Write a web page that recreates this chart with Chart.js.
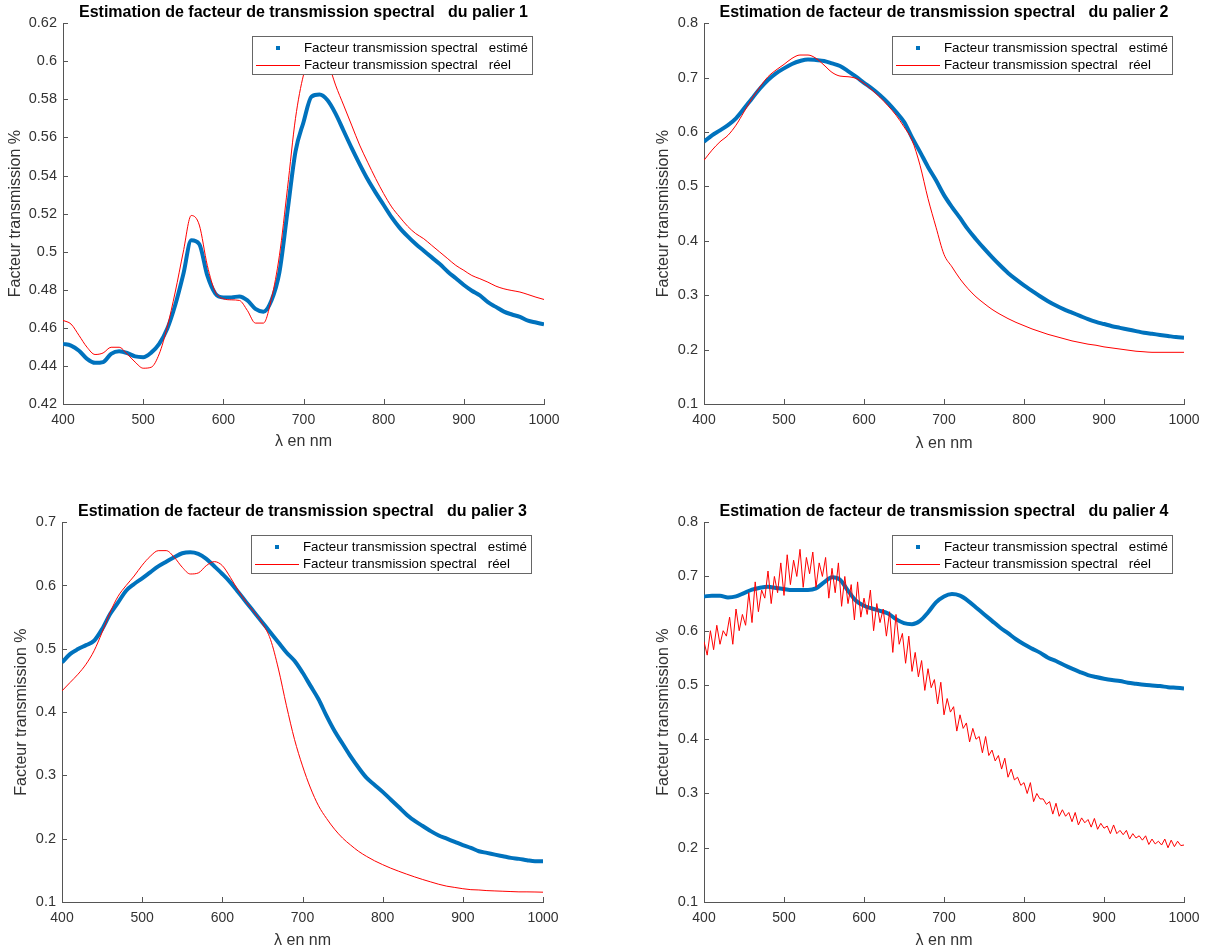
<!DOCTYPE html>
<html>
<head>
<meta charset="utf-8">
<script src="https://cdn.jsdelivr.net/npm/chart.js@4/dist/chart.umd.min.js"></script>
<style>
  body { margin: 0; background: #fff; }
  #wrap { position: relative; width: 1209px; height: 951px; overflow: hidden; background: #fff; }
  canvas { position: absolute; }
</style>
</head>
<body>
<div id="wrap">
  <canvas id="c1" width="604" height="460" style="left:0;top:0"></canvas>
  <canvas id="c2" width="605" height="460" style="left:604px;top:0"></canvas>
  <canvas id="c3" width="604" height="452" style="left:0;top:499px"></canvas>
  <canvas id="c4" width="605" height="452" style="left:604px;top:499px"></canvas>
</div>
<script>
// wavelengths (nm)
const wl = [400,410,420,430,440,450,460,470,480,490,500,510,520,530,540,550,560,570,580,590,
  600,610,620,630,640,650,660,670,680,690,700,710,720,730,740,750,760,770,780,790,
  800,810,820,830,840,850,860,870,880,890,900,910,920,930,940,950,960,970,980,990,1000];

const wl4 = [400,404,408,412,416,420,424,428,432,436,
  440,444,448,452,456,460,464,468,472,476,
  480,484,488,492,496,500,504,508,512,516,
  520,524,528,532,536,540,544,548,552,556,
  560,564,568,572,576,580,584,588,592,596,
  600,604,608,612,616,620,624,628,632,636,
  640,644,648,652,656,660,664,668,672,676,
  680,684,688,692,696,700,704,708,712,716,
  720,724,728,732,736,740,744,748,752,756,
  760,764,768,772,776,780,784,788,792,796,
  800,804,808,812,816,820,824,828,832,836,
  840,844,848,852,856,860,864,868,872,876,
  880,884,888,892,896,900,904,908,912,916,
  920,924,928,932,936,940,944,948,952,956,
  960,964,968,972,976,980,984,988,992,996,
  1000];

// palier 1
const estime1 = [.4516,.4507,.448,.4437,.4416,.442,.4463,.4477,.4468,.445,
  .4446,.447,.4516,.4595,.472,.488,.506,.504,.4875,.478,
  .476,.476,.4765,.4744,.470,.4685,.4744,.4893,.521,.5525,
  .568,.5815,.5825,.5795,.5725,.5635,.5545,.546,.538,.531,
  .5245,.518,.5125,.508,.504,.5005,.497,.4935,.4895,.486,
  .4825,.4795,.477,.4735,.471,.4685,.467,.4658,.4638,.4628,.4618];
const reel1 = [.4639,.462,.456,.4498,.446,.4468,.4498,.4498,.4463,.442,
  .4388,.4393,.4463,.4604,.4788,.4998,.519,.514,.4928,.4788,
  .4753,.4747,.4744,.4691,.4625,.4625,.4753,.4981,.5332,.57,
  .5928,.604,.607,.600,.5875,.577,.5665,.556,.547,.5384,
  .5305,.5235,.5182,.5133,.5095,.5068,.5033,.4998,.4963,.4928,
  .4902,.4875,.4858,.484,.4819,.4805,.4796,.4788,.4775,.4761,.4749];

// palier 2
const estime2 = [.582,.594,.603,.6126,.625,.643,.6617,.680,.6955,.7077,
  .717,.725,.7305,.7335,.7323,.7305,.726,.7212,.712,.7016,
  .6905,.680,.6678,.6537,.6371,.6187,.590,.5635,.5358,.5113,
  .484,.462,.442,.421,.403,.386,.370,.355,.341,.329,
  .318,.308,.298,.289,.281,.274,.268,.262,.256,.251,
  .247,.243,.240,.237,.234,.231,.229,.227,.225,.223,.222];
const reel2 = [.548,.5666,.582,.594,.6126,.637,.6617,.683,.7016,.7139,
  .7243,.7354,.7415,.7415,.7354,.723,.7096,.7028,.7016,.6985,
  .6893,.6771,.6636,.6482,.631,.6095,.585,.539,.4776,.425,
  .375,.352,.330,.312,.297,.285,.274,.265,.257,.250,
  .244,.238,.233,.228,.224,.220,.216,.213,.210,.208,
  .205,.203,.201,.199,.197,.196,.195,.195,.195,.195,.195];

// palier 3
const estime3 = [.4784,.4916,.4995,.5058,.5127,.5311,.5549,.5733,.5918,.6024,
  .6113,.6208,.6303,.6377,.6446,.6509,.6525,.6499,.642,.6303,
  .6182,.605,.5892,.5733,.5575,.5417,.5259,.51,.4942,.481,
  .4625,.4414,.4203,.3939,.370,.350,.330,.312,.296,.285,
  .274,.262,.250,.238,.228,.220,.212,.205,.200,.195,
  .190,.1855,.1802,.1776,.1749,.1723,.1697,.1681,.166,.1644,.1644];
const reel3 = [.4335,.4467,.4599,.4757,.4968,.5259,.5575,.583,.600,.615,
  .632,.646,.655,.6551,.6446,.6288,.6182,.6198,.6314,.6377,
  .6314,.6129,.5918,.5733,.5575,.540,.515,.468,.41,.357,
  .315,.280,.252,.232,.215,.201,.19,.18,.172,.165,
  .159,.1535,.1486,.144,.1396,.1355,.1317,.128,.125,.123,
  .121,.1195,.119,.118,.1175,.117,.1165,.116,.116,.1158,.1155];

// palier 4
const estime4 = [.6632,.6645,.6645,.6614,.6632,.6694,.6756,.6793,.6811,.6787,
  .6768,.675,.675,.675,.678,.6891,.6984,.6941,.6737,.6552,
  .646,.641,.6367,.6318,.6213,.6139,.612,.6182,.6336,.6521,
  .6632,.6675,.6645,.6552,.6429,.6305,.6182,.6059,.5954,.5843,
  .575,.567,.5596,.5503,.5442,.5368,.53,.5238,.5183,.5146,
  .5115,.509,.5072,.5041,.5022,.5004,.4991,.4979,.496,.4948,.4936];
const reel4 = [.580,.555,.600,.565,.610,.575,.600,.590,.625,.575,
  .640,.600,.630,.610,.670,.615,.690,.635,.675,.660,
  .710,.650,.700,.670,.725,.665,.740,.685,.730,.700,
  .750,.680,.735,.705,.745,.680,.725,.700,.735,.660,
  .715,.670,.725,.645,.700,.650,.685,.620,.690,.625,
  .660,.630,.675,.600,.650,.615,.640,.590,.635,.560,
  .630,.575,.595,.540,.590,.525,.560,.515,.545,.490,
  .530,.495,.510,.465,.505,.445,.475,.450,.460,.415,
  .445,.420,.430,.395,.420,.400,.405,.375,.405,.370,
  .380,.360,.370,.345,.365,.330,.345,.325,.330,.315,
  .320,.300,.320,.285,.300,.290,.290,.280,.285,.262,
  .282,.258,.270,.258,.265,.248,.265,.242,.255,.246,
  .252,.238,.254,.234,.245,.236,.240,.226,.242,.226,
  .232,.224,.232,.216,.226,.218,.222,.214,.222,.206,
  .216,.207,.212,.205,.216,.200,.214,.202,.212,.204,
  .205];

const LABEL_EST = 'Facteur transmission spectral   estimé';
const LABEL_REEL = 'Facteur transmission spectral   réel';
const FONT = '"Liberation Sans", Arial, Helvetica, sans-serif';
const AXIS_COLOR = '#555';
const BLUE = '#0072BD';
const RED = '#FF0000';

const pts = (xs, ys) => ys.map((y, i) => ({ x: xs[i], y }));

// ticks inside the axes + boxed legend, MATLAB style
const matlabAxes = {
  id: 'matlabAxes',
  afterDraw(chart) {
    const { ctx, chartArea: a, scales } = chart;
    ctx.save();
    ctx.strokeStyle = AXIS_COLOR;
    ctx.lineWidth = 1;
    ctx.beginPath();
    scales.x.ticks.forEach(t => {
      const px = Math.round(scales.x.getPixelForValue(t.value)) + 0.5;
      ctx.moveTo(px, a.bottom);
      ctx.lineTo(px, a.bottom - 5);
    });
    scales.y.ticks.forEach(t => {
      const py = Math.round(scales.y.getPixelForValue(t.value)) + 0.5;
      ctx.moveTo(a.left, py);
      ctx.lineTo(a.left + 5, py);
    });
    ctx.stroke();

    // legend box
    const w = 280, h = 38;
    const bx = Math.round(a.right - 12 - w), by = Math.round(a.top + 13);
    ctx.fillStyle = '#fff';
    ctx.fillRect(bx, by, w, h);
    ctx.strokeStyle = '#666';
    ctx.strokeRect(bx + 0.5, by + 0.5, w, h);
    ctx.font = '13.3px ' + FONT;
    ctx.textBaseline = 'middle';
    const items = chart.data.datasets.slice().sort((p, q) => p.legendIndex - q.legendIndex);
    items.forEach((ds, i) => {
      const y = by + 12 + i * 17;
      if (ds.marker === 'dot') {
        ctx.fillStyle = ds.borderColor;
        ctx.fillRect(bx + 24, y - 2, 4, 4);
      } else {
        ctx.strokeStyle = ds.borderColor;
        ctx.beginPath();
        ctx.moveTo(bx + 4, y + 0.5);
        ctx.lineTo(bx + 48, y + 0.5);
        ctx.stroke();
      }
      ctx.fillStyle = '#000';
      ctx.fillText(ds.label, bx + 52, y);
    });
    ctx.restore();
  }
};

function makeChart(id, cfg) {
  new Chart(document.getElementById(id), {
    type: 'line',
    data: {
      datasets: [
        {
          label: LABEL_EST, legendIndex: 0, marker: 'dot', order: 2,
          data: pts(wl, cfg.est),
          borderColor: BLUE, borderWidth: 4, pointRadius: 0,
          cubicInterpolationMode: 'monotone', fill: false,
        },
        {
          label: LABEL_REEL, legendIndex: 1, marker: 'line', order: 1,
          data: pts(cfg.reelX, cfg.reel),
          borderColor: RED, borderWidth: 1, pointRadius: 0,
          cubicInterpolationMode: cfg.noisy ? 'default' : 'monotone',
          tension: cfg.noisy ? 0 : 0.4, fill: false,
        },
      ],
    },
    options: {
      responsive: false,
      animation: false,
      events: [],
      layout: { padding: { left: 0, right: cfg.padRight, top: 0, bottom: 0 } },
      plugins: {
        legend: { display: false },
        tooltip: { enabled: false },
        title: {
          display: true, text: cfg.title, fullSize: false, color: '#000',
          font: { family: FONT, size: 16, weight: 'bold' },
          padding: { top: 3, bottom: 1 },
        },
      },
      scales: {
        x: {
          type: 'linear', min: 400, max: 1000,
          afterFit: s => { s.height = cfg.xHeight; },
          ticks: { stepSize: 100, padding: 8, color: '#333', font: { family: FONT, size: 14 }, callback: v => String(v) },
          grid: { display: true, drawOnChartArea: false, drawTicks: false },
          border: { display: true, color: AXIS_COLOR, width: 1 },
          title: { display: true, text: 'λ en nm', color: '#333', font: { family: FONT, size: 16 }, padding: { top: 0, bottom: cfg.xTitlePad } },
        },
        y: {
          min: cfg.yMin, max: cfg.yMax,
          afterFit: s => { s.width = cfg.yWidth; },
          ticks: { stepSize: cfg.yStep, padding: 6, color: '#333', font: { family: FONT, size: 14.5 }, callback: v => String(+v.toFixed(2)) },
          grid: { display: true, drawOnChartArea: false, drawTicks: false },
          border: { display: true, color: AXIS_COLOR, width: 1 },
          title: { display: true, text: 'Facteur transmission %', color: '#333', font: { family: FONT, size: 16 }, padding: { top: cfg.yTitlePad, bottom: 0 } },
        },
      },
    },
    plugins: [matlabAxes],
  });
}

const TITLE = n => 'Estimation de facteur de transmission spectral   du palier ' + n;

makeChart('c1', { title: TITLE(1), est: estime1, reel: reel1, reelX: wl,
  yMin: 0.42, yMax: 0.62, yStep: 0.02, yWidth: 63, padRight: 60, xHeight: 56, xTitlePad: 8.4, yTitlePad: 5.7 });
makeChart('c2', { title: TITLE(2), est: estime2, reel: reel2, reelX: wl,
  yMin: 0.1, yMax: 0.8, yStep: 0.1, yWidth: 100, padRight: 25, xHeight: 56, xTitlePad: 6.4, yTitlePad: 50.4 });
makeChart('c3', { title: TITLE(3), est: estime3, reel: reel3, reelX: wl,
  yMin: 0.1, yMax: 0.7, yStep: 0.1, yWidth: 62, padRight: 61, xHeight: 49, xTitlePad: 0.4, yTitlePad: 12.4 });
makeChart('c4', { title: TITLE(4), est: estime4, reel: reel4, reelX: wl4, noisy: true,
  yMin: 0.1, yMax: 0.8, yStep: 0.1, yWidth: 100, padRight: 25, xHeight: 49, xTitlePad: 0.4, yTitlePad: 50.4 });
</script>
</body>
</html>
